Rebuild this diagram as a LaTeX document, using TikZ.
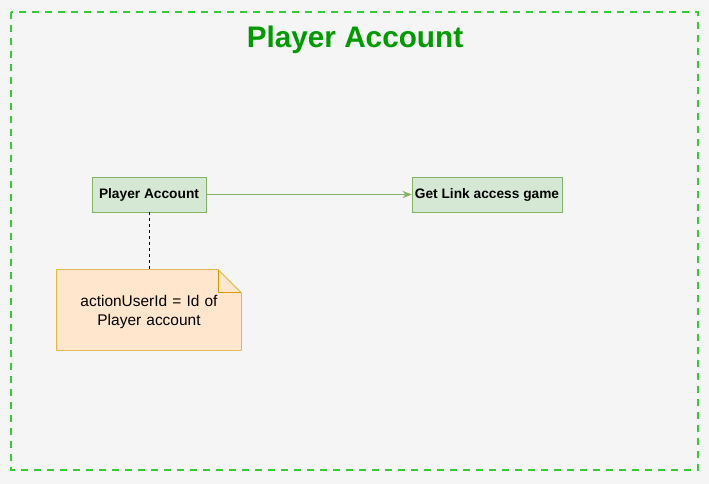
\documentclass[tikz,border=0pt]{standalone}
\usepackage{fontspec}
\setmainfont{Liberation Sans}
\usepackage{tikz}
\usetikzlibrary{arrows.meta,positioning,calc}
\usepackage{xcolor}
\definecolor{bgGray}{HTML}{F5F5F5}
\definecolor{frameGreen}{HTML}{33CC33}
\definecolor{titleGreen}{HTML}{009900}
\definecolor{boxFill}{HTML}{D5E8D4}
\definecolor{boxLine}{HTML}{82B366}
\definecolor{noteFill}{HTML}{FFE6CC}
\definecolor{noteLine}{HTML}{D79B00}

\begin{document}
\begin{tikzpicture}[
        x=0.75pt, y=-0.75pt,
        act/.style={draw=boxLine, fill=boxFill, rectangle, minimum height=26.25pt, inner sep=0pt, font=\fontsize{10.3}{12}\selectfont\bfseries},
        notetext/.style={text width=130pt, align=center, minimum width=138pt, minimum height=60pt, inner sep=0pt, font=\fontsize{11.6}{14.5}\selectfont}
    ]
        \fill[bgGray] (0,0) rectangle (709,484);
        \useasboundingbox (0,0) rectangle (709,484);
        \draw[frameGreen, line width=1.5pt, dash pattern=on 5.25pt off 4.5pt] (11,12) rectangle (698,470);
        \node[font=\fontsize{22.3}{27}\selectfont\bfseries, text=titleGreen] (title) at (355,39.5) {Player Account};

        \node[act, minimum width=85.5pt] (player) at (149,194.5) {Player Account};
        \node[act, minimum width=112.5pt] (getlink) at (487,194.5) {Get Link access game};

        \node[notetext] (note) at (149,310) {};
        % folded corner
        \draw[noteLine, fill=noteFill] (note.north west) -- ([xshift=-17.25pt]note.north east)
            -- ([yshift=-17.25pt]note.north east) -- (note.south east) -- (note.south west) -- cycle;
        \draw[noteLine] ([xshift=-17.25pt]note.north east) -- ([xshift=-17.25pt,yshift=-17.25pt]note.north east)
            -- ([yshift=-17.25pt]note.north east);
        \node[notetext] (notelabel) at ([yshift=-1.5pt]note.center) {actionUserId = Id of\\Player account};

        \draw[-{Stealth[length=7pt,width=5.5pt]}, boxLine, line width=0.75pt] (player.east) -- (getlink.west);
        \draw[black, line width=0.75pt, dash pattern=on 2.25pt off 2.25pt] (player.south) -- (note.north);
    \end{tikzpicture}
\end{document}
